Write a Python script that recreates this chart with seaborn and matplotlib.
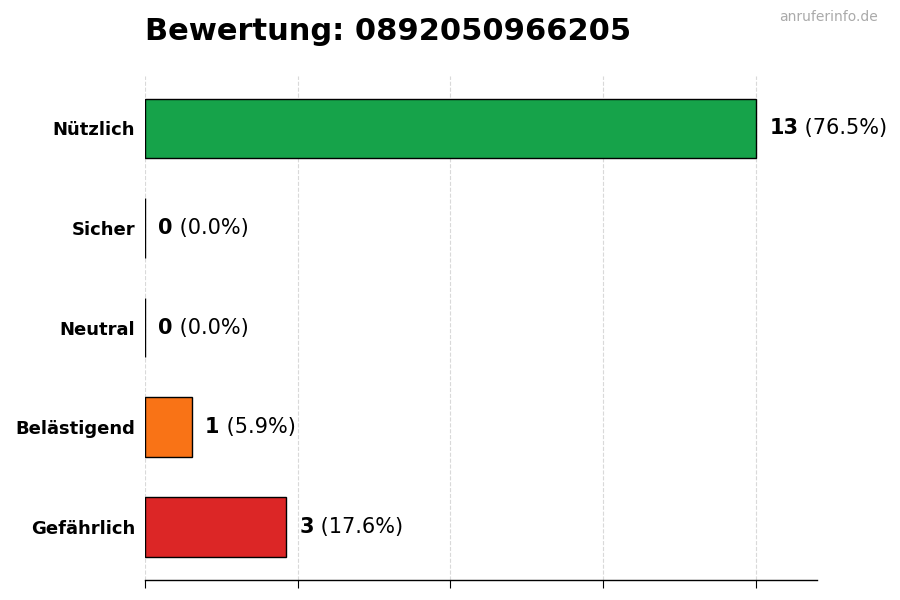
import matplotlib
matplotlib.use("Agg")
import matplotlib.pyplot as plt
import seaborn as sns
import numpy as np
import pandas as pd

# Daten aus dem Bild
kategorien = ["Nützlich", "Sicher", "Neutral", "Belästigend", "Gefährlich"]
anzahl = [13, 0, 0, 1, 3]
farben = ["#16a34a", "#4ade80", "#9ca3af", "#f97316", "#dc2626"]
nummer = "0892050966205"

sns.set_style("white")
plt.rcParams["font.family"] = ["DejaVu Sans"]
plt.rcParams["text.color"] = "black"
plt.rcParams["axes.labelcolor"] = "black"
plt.rcParams["xtick.color"] = "black"
plt.rcParams["ytick.color"] = "black"

df = pd.DataFrame({"kategorie": kategorien, "anzahl": anzahl})
gesamt = sum(anzahl)

fig = plt.figure(figsize=(9, 6), dpi=100)
ax = fig.add_axes([0.161, 0.034, 0.747, 0.84])

sns.barplot(data=df, x="anzahl", y="kategorie", hue="kategorie",
            palette=farben, saturation=1, orient="h", width=0.6,
            edgecolor="black", linewidth=1.0, legend=False, ax=ax, zorder=3)

xmax = max(anzahl)
ax.set_xlim(0, xmax * 1.1)
ax.set_ylim(len(kategorien) - 0.47, -0.53)
ax.set_xticks(np.linspace(0, xmax, 5))
ax.set_xticklabels([])
ax.set_xlabel("")
ax.set_ylabel("")
ax.tick_params(axis="y", labelsize=13, length=4, width=0.8, pad=3, colors="black")
ax.tick_params(axis="x", length=6, width=0.8, bottom=True, colors="black")
for lbl in ax.get_yticklabels():
    lbl.set_fontweight("bold")

ax.grid(axis="x", linestyle="--", color="#d9d9d9", linewidth=0.8, zorder=0)
ax.grid(axis="y", visible=False)
for s in ["top", "right", "left"]:
    ax.spines[s].set_visible(False)
ax.spines["bottom"].set_color("black")
ax.spines["bottom"].set_linewidth(1.0)

# Wertebeschriftung: Zahl fett, Prozent normal
for i, v in enumerate(anzahl):
    pct = 100 * v / gesamt if gesamt else 0
    t1 = ax.annotate(str(v), xy=(v, i), xytext=(9.5, 0), textcoords="offset points",
                     ha="left", va="center", fontsize=15, fontweight="bold", zorder=5)
    ax.annotate(f" ({pct:.1f}%)", xy=(1, 0), xycoords=t1, ha="left", va="bottom",
                fontsize=15, zorder=5)

fig.text(0.161, 0.947, f"Bewertung: {nummer}", fontsize=22, fontweight="bold",
         ha="left", va="center")
fig.text(0.975, 0.971, "anruferinfo.de", fontsize=10, color="#aaaaaa",
         ha="right", va="center")

fig.savefig("out.png", dpi=100)
